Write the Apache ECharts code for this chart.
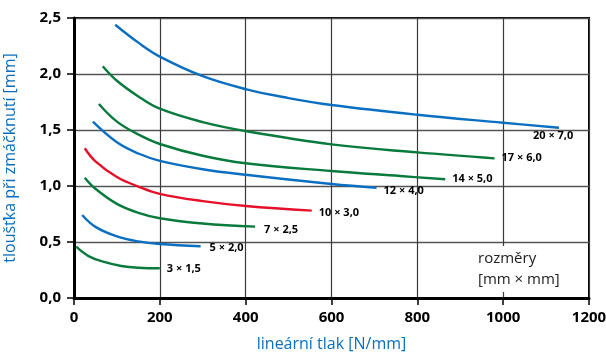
<!DOCTYPE html>
<html>
<head>
<meta charset="utf-8">
<script src="https://cdn.jsdelivr.net/npm/echarts@6/dist/echarts.min.js"></script>
<style>
	html, body { margin: 0; padding: 0; background: #fff; }
	#chart { width: 606px; height: 354px; }
</style>
</head>
<body>
<div id="chart"></div>
<script>
/*
 * data: [linear pressure N/mm, thickness mm]
 */
var xTicks = [0, 200, 400, 600, 800, 1000, 1200];
var yTicks = [0, 0.5, 1.0, 1.5, 2.0, 2.5];

var names = ["20 × 7,0", "17 × 6,0", "14 × 5,0", "12 × 4,0", "10 × 3,0", "7 × 2,5", "5 × 2,0", "3 × 1,5"];

var s20x7 = [[96, 2.44], [150, 2.28], [200, 2.155], [300, 1.98], [400, 1.865], [500, 1.785], [600, 1.723], [800, 1.636], [1000, 1.565], [1130, 1.52]];
var s17x6 = [[67, 2.07], [100, 1.94], [150, 1.80], [200, 1.69], [300, 1.57], [400, 1.49], [600, 1.372], [800, 1.30], [980, 1.247]];
var s14x5 = [[58, 1.732], [100, 1.575], [150, 1.46], [200, 1.375], [300, 1.27], [400, 1.203], [600, 1.134], [760, 1.089], [865, 1.06]];
var s12x4 = [[44, 1.574], [100, 1.39], [150, 1.29], [200, 1.225], [300, 1.15], [400, 1.10], [600, 1.018], [705, 0.985]];
var s10x3 = [[25, 1.337], [50, 1.22], [100, 1.08], [150, 0.995], [200, 0.93], [300, 0.865], [400, 0.822], [554, 0.78]];
var s7x25 = [[25, 1.074], [50, 0.975], [100, 0.84], [150, 0.76], [200, 0.712], [300, 0.665], [422, 0.637]];
var s5x2 = [[19, 0.741], [50, 0.635], [100, 0.55], [150, 0.505], [200, 0.482], [295, 0.462]];
var s3x15 = [[5, 0.458], [35, 0.372], [70, 0.322], [110, 0.286], [150, 0.27], [200, 0.265]];

var BLUE = "#0a6fc0";
var GREEN = "#077a3c";
var RED = "#e5102a";

var voChart = echarts.init(document.getElementById("chart"));

/**
 * one curve with its label at the end
 */
function makeSeries(name, data, color, offset) {
	return {
		name: name,
		type: "line",
		data: data,
		smooth: 0.4,
		showSymbol: false,
		lineStyle: { color: color, width: 2.4 },
		endLabel: {
			show: true,
			formatter: name,
			color: "#000",
			fontFamily: "Open Sans",
			fontWeight: "bold",
			fontSize: 11,
			distance: 7,
			offset: offset || [0, 0]
		},
		z: 3
	};
}

var voOption = {
	animation: false,
	textStyle: { fontFamily: "Open Sans" },
	grid: {
		left: 74, right: 17, top: 18, bottom: 56,
		outerBoundsMode: "none",
		containLabel: false,
		show: true,
		borderColor: "#000",
		borderWidth: 2
	},
	xAxis: {
		type: "value",
		min: xTicks[0],
		max: xTicks[xTicks.length - 1],
		interval: 200,
		name: "lineární tlak [N/mm]",
		nameLocation: "middle",
		nameGap: 38,
		nameTextStyle: { color: BLUE, fontSize: 16, fontFamily: "Open Sans" },
		axisLine: { show: true, lineStyle: { color: "#000", width: 3 } },
		axisTick: { show: true, length: 7, lineStyle: { color: "#000", width: 1.5 } },
		axisLabel: {
			color: "#000", fontWeight: "bold", fontSize: 15, margin: 12,
			formatter: function(v) { return String(v); }
		},
		splitLine: { show: true, lineStyle: { color: "#3a3a3a", width: 1.2 } }
	},
	yAxis: {
		type: "value",
		min: yTicks[0],
		max: yTicks[yTicks.length - 1],
		interval: 0.5,
		name: "tloušťka při zmáčknutí [mm]",
		nameLocation: "middle",
		nameGap: 56,
		nameTextStyle: { color: BLUE, fontSize: 16, fontFamily: "Open Sans" },
		axisLine: { show: true, lineStyle: { color: "#000", width: 3 } },
		axisTick: { show: true, length: 7, lineStyle: { color: "#000", width: 1.5 } },
		axisLabel: {
			color: "#000", fontWeight: "bold", fontSize: 15, margin: 13,
			formatter: function(v) { return v.toFixed(1).replace(".", ","); }
		},
		splitLine: { show: true, lineStyle: { color: "#555", width: 1.4 } }
	},
	graphic: [{
		type: "text",
		left: 474,
		top: 246,
		z: 10,
		style: {
			text: "rozměry\n[mm × mm]",
			align: "center",
			fill: "#222",
			font: "15px 'Open Sans'",
			lineHeight: 21,
			backgroundColor: "#fff",
			padding: [2, 4, 2, 4]
		}
	}],
	series: [
		makeSeries(names[0], s20x7, BLUE, [-33, 8]),
		makeSeries(names[1], s17x6, GREEN),
		makeSeries(names[2], s14x5, GREEN),
		makeSeries(names[3], s12x4, BLUE, [0, 3]),
		makeSeries(names[4], s10x3, RED, [0, 2]),
		makeSeries(names[5], s7x25, GREEN, [2, 3]),
		makeSeries(names[6], s5x2, BLUE, [2, 2]),
		makeSeries(names[7], s3x15, GREEN, [0, 1])
	]
};

voChart.setOption(voOption);
</script>
</body>
</html>
